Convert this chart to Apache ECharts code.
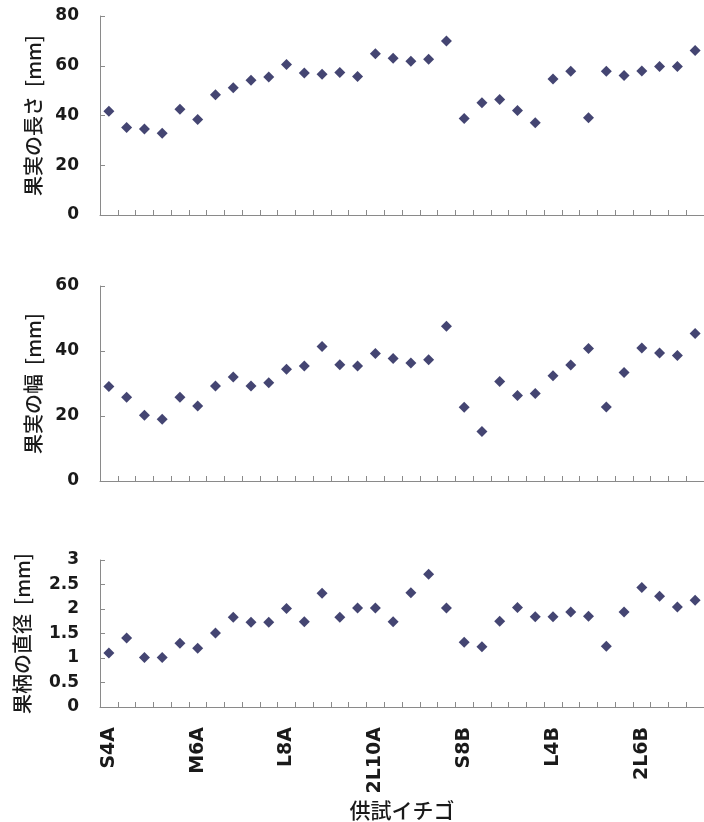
<!DOCTYPE html>
<html><head><meta charset="utf-8">
<script src="https://cdn.jsdelivr.net/npm/echarts@6/dist/echarts.min.js"></script>
<style>html,body{margin:0;padding:0;background:#fff}#c{width:704px;height:822px}</style>
</head><body><div id="c"></div>
<script>
const categories = ["S4A","","","","","M6A","","","","","L8A","","","","","2L10A","","","","","S8B","","","","","L4B","","","","","2L6B","","",""];
const fruitLength = [41.7,35.2,34.6,32.9,42.5,38.4,48.3,51.2,54.2,55.5,60.5,57.1,56.6,57.3,55.7,64.8,63.0,61.8,62.6,70.0,38.8,45.1,46.4,42.0,37.1,54.7,57.8,39.1,57.8,56.1,57.9,59.7,59.7,66.1];
const fruitWidth = [29.1,25.8,20.2,19.0,25.8,23.1,29.2,32.0,29.2,30.2,34.4,35.4,41.4,35.8,35.4,39.2,37.7,36.3,37.3,47.6,22.7,15.2,30.6,26.3,26.9,32.4,35.7,40.8,22.8,33.4,40.9,39.4,38.6,45.4];
const stalkDiameter = [1.10,1.41,1.01,1.01,1.30,1.20,1.51,1.83,1.73,1.73,2.01,1.74,2.32,1.83,2.02,2.02,1.74,2.33,2.71,2.02,1.32,1.23,1.75,2.03,1.84,1.84,1.94,1.85,1.24,1.94,2.44,2.26,2.04,2.18];
const yNames = ["果実の長さ  [mm]","果実の幅  [mm]","果柄の直径  [mm]"];
const yMax = [80,60,3];
const yInterval = [20,20,0.5];
const xName = "供試イチゴ";

const axisColor = '#8a8a8a';
const numFont = 'DejaVu Sans';
const jpFont = 'Noto Sans CJK JP';
const grids = [
  {left:100,right:0,top:16,height:199},
  {left:100,right:0,top:286,height:195},
  {left:100,right:0,top:560,height:147}
];
const nameGaps = [57,57,68];
const seriesData = [fruitLength, fruitWidth, stalkDiameter];

const xAxes = grids.map((g,i)=>({
  type:'category', gridIndex:i, data:categories, boundaryGap:true,
  axisLine:{show:true,lineStyle:{color:axisColor,width:1}},
  axisTick:{show:true,inside:true,length:5,interval:0,alignWithLabel:false,lineStyle:{color:axisColor}},
  axisLabel:{show:i===2,interval:0,rotate:90,margin:20,fontSize:19,fontWeight:'bold',color:'#1a1a1a',fontFamily:numFont,hideOverlap:false},
  splitLine:{show:false},
  name: i===2 ? xName : '', nameLocation:'middle', nameGap:93,
  nameTextStyle:{fontSize:21,fontWeight:500,color:'#1a1a1a',fontFamily:jpFont}
}));
const yAxes = grids.map((g,i)=>({
  type:'value', gridIndex:i, min:0, max:yMax[i], interval:yInterval[i],
  axisLine:{show:true,lineStyle:{color:axisColor,width:1}},
  axisTick:{show:true,inside:true,length:5,lineStyle:{color:axisColor}},
  axisLabel:{margin:21,fontSize:17,fontWeight:'bold',color:'#1a1a1a',fontFamily:numFont},
  splitLine:{show:false},
  name:yNames[i], nameLocation:'middle', nameGap:nameGaps[i],
  nameTextStyle:{fontSize:20,fontWeight:500,color:'#1a1a1a',fontFamily:jpFont}
}));
const series = seriesData.map((d,i)=>({
  type:'scatter', xAxisIndex:i, yAxisIndex:i, data:d,
  symbol:'diamond', symbolSize:[11,11],
  itemStyle:{color:'#15164f'}
}));
const chart = echarts.init(document.getElementById('c'), null, {renderer:'canvas'});
chart.setOption({
  backgroundColor:'#fff', animation:false,
  grid:grids, xAxis:xAxes, yAxis:yAxes, series:series
});
</script></body></html>
